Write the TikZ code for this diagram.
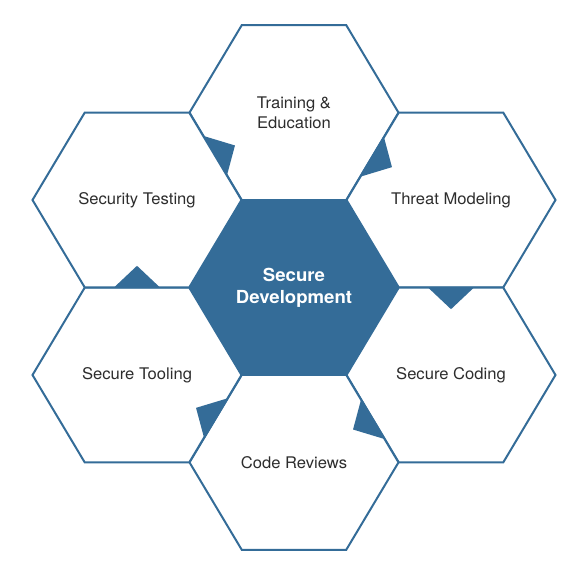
\documentclass[tikz,border=0pt]{standalone}
\usepackage{fontspec}
\setmainfont{TeX Gyre Heros}
\usetikzlibrary{shapes.geometric, calc, positioning}
\definecolor{hexblue}{RGB}{52,108,152}
\definecolor{labelgray}{RGB}{45,45,45}
\tikzstyle{cell} = [regular polygon, regular polygon sides=6, minimum size=209pt, inner sep=0pt, outer sep=0pt, yscale=0.966, transform shape, draw=hexblue, line width=2pt, fill=white, text=labelgray, align=center, font=\fontsize{16.6}{20.5}\selectfont]
\tikzstyle{core} = [cell, fill=hexblue, text=white, font=\fontsize{18.6}{22.5}\selectfont\bfseries]
\tikzstyle{flowmark} = [fill=hexblue, draw=none]
% triangle on the shared edge, pointing from #1 into #2
\newcommand\flowmark[2]{%
  \fill[flowmark] ($(#1.center)!0.5!(#2.center)!23pt!90:(#2.center)$) -- ($(#1.center)!0.624!(#2.center)$) -- ($(#1.center)!0.5!(#2.center)!23pt!-90:(#2.center)$) -- cycle;}

\begin{document}
\begin{tikzpicture}[x=1pt, y=1pt]
    \useasboundingbox (0,0) rectangle (568,567);

    % Centre
    \node[core] (dev) at (294,279.5) {Secure\\Development};

    % Ring of cells
    \node[cell, above=0pt of dev] (train) {Training \&\\Education};
    \node[cell] (threat) at ($(dev)+(157,87.5)$) {Threat Modeling};
    \node[cell] (coding) at ($(dev)+(157,-87.5)$) {Secure Coding};
    \node[cell, below=0pt of dev] (review) {Code Reviews};
    \node[cell] (tooling) at ($(dev)+(-157,-87.5)$) {Secure Tooling};
    \node[cell] (testing) at ($(dev)+(-157,87.5)$) {Security Testing};

    % Flow markers
    \flowmark{tooling}{testing}
    \flowmark{testing}{train}
    \flowmark{train}{threat}
    \flowmark{threat}{coding}
    \flowmark{coding}{review}
    \flowmark{review}{tooling}
\end{tikzpicture}
\end{document}
